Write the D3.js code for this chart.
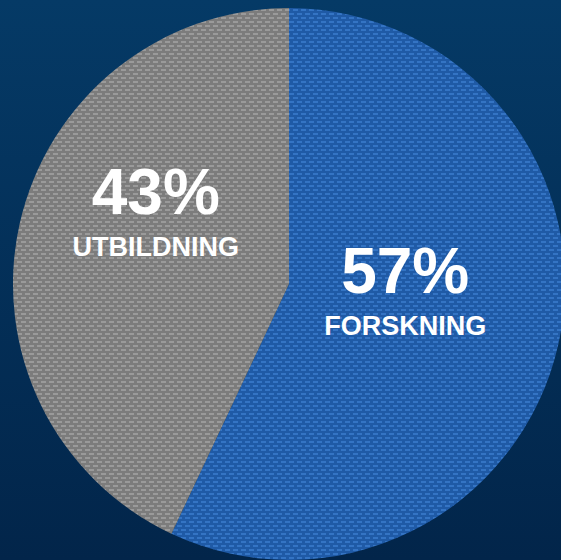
<!DOCTYPE html>
<html>
<head>
<meta charset="utf-8">
<script src="https://cdn.jsdelivr.net/npm/d3@7"></script>
<style>
  html, body { margin: 0; padding: 0; overflow: hidden; }
  svg { display: block; }
</style>
</head>
<body>
<svg id="chart"></svg>
<script>
// data
const categories = ["FORSKNING", "UTBILDNING"];
const values = [57, 43];
const valueLabels = ["57%", "43%"];

// colours
const sliceBase = ["#1f5aa6", "#7c7c7c"];
const sliceDash = ["#3474c4", "#9a9a9a"];

const width = 561;
const height = 560;
const cx = 289, cy = 284, radius = 276;

const svg = d3.select("#chart")
  .attr("width", width)
  .attr("height", height);

const defs = svg.append("defs");

const bg = defs.append("linearGradient")
  .attr("id", "bg")
  .attr("x1", 0).attr("y1", 0).attr("x2", 0).attr("y2", 1);
bg.append("stop").attr("offset", "0%").attr("stop-color", "#053a66");
bg.append("stop").attr("offset", "100%").attr("stop-color", "#02254a");

// woven texture, one pattern per slice
categories.forEach((c, i) => {
  const p = defs.append("pattern")
    .attr("id", `tex${i}`)
    .attr("patternUnits", "userSpaceOnUse")
    .attr("width", 8)
    .attr("height", 8);
  p.append("rect").attr("width", 8).attr("height", 8).attr("fill", sliceBase[i]);
  p.append("rect").attr("x", 0).attr("y", 1).attr("width", 5).attr("height", 2).attr("fill", sliceDash[i]);
  p.append("rect").attr("x", 4).attr("y", 5).attr("width", 5).attr("height", 2).attr("fill", sliceDash[i]);
  p.append("rect").attr("x", -4).attr("y", 5).attr("width", 5).attr("height", 2).attr("fill", sliceDash[i]);
});

svg.append("rect")
  .attr("width", width)
  .attr("height", height)
  .attr("fill", "url(#bg)");

const pie = d3.pie().sort(null).value(d => d)(values);
const arc = d3.arc().innerRadius(0).outerRadius(radius);

const g = svg.append("g")
  .attr("transform", `translate(${cx}, ${cy})`);

g.selectAll(".slice")
  .data(pie)
  .enter()
  .append("path")
  .attr("class", "slice")
  .attr("d", arc)
  .attr("fill", (d, i) => `url(#tex${i})`);

// label anchors: centroid then nudged
const labelArc = d3.arc().innerRadius(0).outerRadius(radius * 0.9);
const nudge = [[-5, -18], [-12, -43]];

const labels = g.selectAll(".label")
  .data(pie)
  .enter()
  .append("g")
  .attr("class", "label")
  .attr("transform", (d, i) => {
    const [x, y] = labelArc.centroid(d);
    return `translate(${x + nudge[i][0]}, ${y + nudge[i][1]})`;
  });

labels.append("text")
  .attr("text-anchor", "middle")
  .attr("y", 0)
  .attr("fill", "#ffffff")
  .style("font-family", "'Liberation Sans', Arial, sans-serif")
  .style("font-weight", "bold")
  .style("font-size", "64px")
  .text((d, i) => valueLabels[i]);

labels.append("text")
  .attr("text-anchor", "middle")
  .attr("y", 42)
  .attr("fill", "#ffffff")
  .style("font-family", "'Liberation Sans', Arial, sans-serif")
  .style("font-weight", "bold")
  .style("font-size", "27px")
  .text((d, i) => categories[i]);
</script>
</body>
</html>
